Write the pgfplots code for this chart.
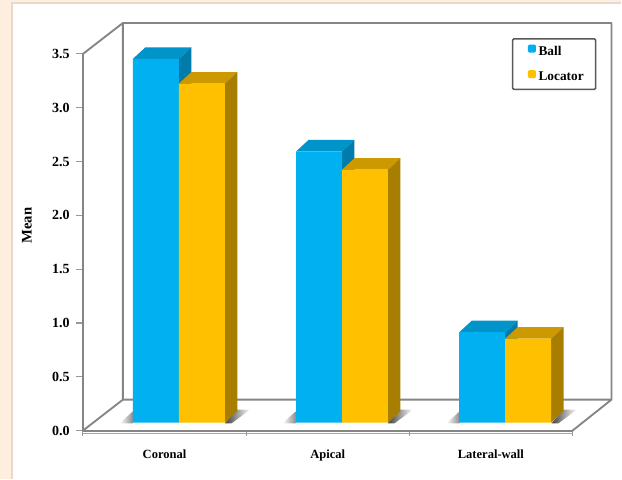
\documentclass[border=0pt]{standalone}
\usepackage{fontspec}
\setmainfont{Liberation Serif}
\usepackage{pgfplots}
\usepackage{pgfplotstable}
\pgfplotsset{compat=1.18}

\definecolor{pagebg}{HTML}{FDEEE0}
\definecolor{panelrule}{HTML}{EAD9CA}
\definecolor{wall}{HTML}{858585}
\definecolor{ballfront}{HTML}{00B0F0}
\definecolor{balltop}{HTML}{0094C8}
\definecolor{ballside}{HTML}{007BAA}
\definecolor{locfront}{HTML}{FFC000}
\definecolor{loctop}{HTML}{CC9A00}
\definecolor{locside}{HTML}{A87E00}

% Mean per site, one table per attachment
\pgfplotstableread{
x y
0 3.38
1 2.52
2 0.84
}\balldata
\pgfplotstableread{
x y
0 3.15
1 2.35
2 0.78
}\locatordata

% Top and side faces of a bar: {category}{offset of front-left edge in categories}{value}{top}{side}
\newcommand{\barfaces}[5]{%
  \pgfmathsetmacro{\La}{#1+#2}
  \pgfmathsetmacro{\Ra}{\La+0.2816}
  \pgfmathsetmacro{\Lb}{\La+0.0765}
  \pgfmathsetmacro{\Rb}{\Ra+0.0765}
  \pgfmathsetmacro{\Vb}{#3+0.1068}
  \addplot[forget plot,fill=#4,draw=none,xshift=10.725pt,yshift=6pt]
    coordinates {(\La,#3) (\Lb,\Vb) (\Rb,\Vb) (\Ra,#3)} -- cycle;
  \addplot[forget plot,fill=#5,draw=none,xshift=10.725pt,yshift=6pt]
    coordinates {(\Ra,#3) (\Rb,\Vb) (\Rb,0.1068) (\Ra,0)} -- cycle;
}

% Soft floor shadow beside a bar group; #1 is the group's left edge in pt from the axis origin
\newcommand{\floorshadow}[1]{%
  \shade[left color=black!75,right color=white]
    ({#1+69},5.4) -- ({#1+69+9},15.75) -- ({#1+69+19},15.75) -- ({#1+69+5},5.4) -- cycle;
  \shade[left color=white,right color=black!45]
    ({#1-10},5.4) -- (#1,14.5) -- (#1,5.4) -- cycle;
}

\begin{document}
\begin{tikzpicture}[x=1pt,y=1pt]
  % page and panel
  \fill[pagebg] (-62.25,-36) rectangle (404.25,323.25);
  \fill[white] (-53.25,-36) rectangle (404.25,321);
  \draw[panelrule,line width=.8pt] (-53.25,-36) -- (-53.25,321) -- (404.25,321);
  % walls and floor of the box
  \draw[wall,line width=1.4pt,line join=round]
    (30,23.25) -- (30,306) -- (396.75,306) -- (396.75,23.25) -- (30,23.25)
    (0,282.75) -- (30,306) (0,0) -- (30,23.25)
    (367.5,0) -- (396.75,23.25);
  \draw[black!35,line width=1pt] (0,-2.2) -- (367.5,-2.2);
  \floorshadow{37.5}
  \floorshadow{159.75}
  \floorshadow{282.75}
  \begin{axis}[
    at={(0,0)},anchor=south west,
    scale only axis,width=367.5pt,height=282.75pt,
    xmin=-0.5,xmax=2.5,ymin=0,ymax=3.5,
    clip=false,
    axis x line=bottom,axis y line=left,
    axis line style={wall,line width=1.4pt,-},
    xtick={0,1,2},xticklabels={Coronal,Apical,Lateral-wall},
    minor xtick={-0.5,0.5,1.5,2.5},
    major x tick style={draw=none},
    minor tick length=3.75pt,
    minor tick style={black!40,line width=.8pt},
    ytick={0,0.5,...,3.5},
    y tick style={black!40,line width=.8pt},
    major tick length=5pt,
    tick align=outside,
    ticklabel style={font=\fontsize{9.4}{11}\selectfont\bfseries},
    /pgf/number format/assume math mode=true,
    /pgf/number format/fixed,/pgf/number format/fixed zerofill,/pgf/number format/precision=1,
    yticklabel style={xshift=-1.5pt,font=\fontsize{10.5}{12}\selectfont\bfseries},
    xticklabel style={yshift=-5.5pt},
    ylabel={Mean},
    ylabel style={font=\fontsize{11}{12}\selectfont\bfseries,at={(axis description cs:-0.1143,0.544)},anchor=center},
    legend cell align=left,
    legend style={at={(rel axis cs:1.049,1.042)},anchor=north east,
      draw=black!65,line width=1.2pt,rounded corners=1pt,
      font=\fontsize{10}{11}\selectfont\bfseries,
      inner xsep=7pt,inner ysep=3.2pt,row sep=7pt},
  ]
    \barfaces{0}{-0.2816}{3.38}{balltop}{ballside}
    \barfaces{1}{-0.2816}{2.52}{balltop}{ballside}
    \barfaces{2}{-0.2816}{0.84}{balltop}{ballside}
    \addplot[ybar,bar width=34.5pt,draw=none,fill=ballfront,bar shift=-17.25pt,xshift=10.725pt,yshift=6pt,
      legend image code/.code={\path (-4.5pt,0); \fill[ballfront] (0cm,-6.8pt) rectangle (6pt,-0.8pt);}]
      table[x=x,y=y] {\balldata};
    \addlegendentry{Ball}
    \barfaces{0}{0}{3.15}{loctop}{locside}
    \barfaces{1}{0}{2.35}{loctop}{locside}
    \barfaces{2}{0}{0.78}{loctop}{locside}
    \addplot[ybar,bar width=34.5pt,draw=none,fill=locfront,bar shift=17.25pt,xshift=10.725pt,yshift=6pt,
      legend image code/.code={\path (-4.5pt,0); \fill[locfront] (0cm,-6.8pt) rectangle (6pt,-0.8pt);}]
      table[x=x,y=y] {\locatordata};
    \addlegendentry{Locator}
  \end{axis}
\end{tikzpicture}
\end{document}
